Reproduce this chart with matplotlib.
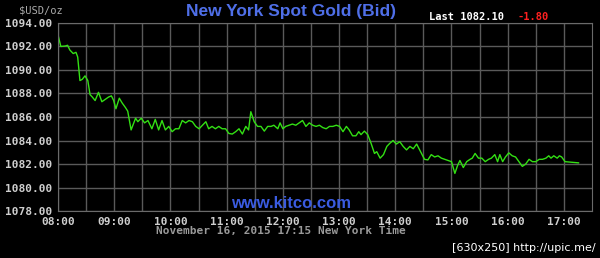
import matplotlib.pyplot as plt
import numpy as np

# spot gold bid, time in decimal hours (New York)
hours = [8.00, 8.05, 8.13, 8.17, 8.21, 8.27, 8.32, 8.35, 8.39, 8.43, 8.48, 8.53,
         8.57, 8.61, 8.66, 8.72, 8.78, 8.84, 8.90, 8.95, 8.99, 9.03, 9.09, 9.14,
         9.20, 9.24, 9.30, 9.38, 9.42, 9.48, 9.54, 9.60, 9.67, 9.73, 9.79, 9.85,
         9.91, 9.97, 10.03, 10.09, 10.15, 10.21, 10.27, 10.33, 10.39, 10.45, 10.51,
         10.57, 10.63, 10.68, 10.74, 10.80, 10.86, 10.92, 10.98, 11.04, 11.10, 11.16,
         11.22, 11.28, 11.34, 11.39, 11.43, 11.49, 11.55, 11.61, 11.67, 11.73, 11.79,
         11.84, 11.91, 11.95, 12.00, 12.05, 12.11, 12.17, 12.23, 12.29, 12.35, 12.41,
         12.47, 12.53, 12.59, 12.65, 12.71, 12.77, 12.83, 12.89, 12.95, 13.01, 13.07,
         13.13, 13.18, 13.24, 13.30, 13.35, 13.39, 13.45, 13.51, 13.57, 13.63, 13.67,
         13.73, 13.79, 13.85, 13.90, 13.96, 14.02, 14.08, 14.14, 14.20, 14.26, 14.32,
         14.38, 14.45, 14.52, 14.58, 14.64, 14.70, 14.76, 14.82, 14.88, 14.94, 15.00,
         15.06, 15.11, 15.15, 15.21, 15.27, 15.33, 15.37, 15.42, 15.48, 15.54, 15.60,
         15.66, 15.71, 15.77, 15.82, 15.86, 15.91, 15.96, 16.02, 16.08, 16.14, 16.20,
         16.26, 16.32, 16.38, 16.44, 16.50, 16.56, 16.62, 16.68, 16.73, 16.77, 16.82,
         16.88, 16.92, 16.96, 17.02, 17.26]
bid = [1092.98, 1092.0, 1092.04, 1092.1, 1091.7, 1091.4, 1091.5, 1091.1, 1089.1, 1089.2,
       1089.5, 1089.1, 1087.9, 1087.7, 1087.4, 1088.1, 1087.3, 1087.5, 1087.7, 1087.8,
       1087.4, 1086.7, 1087.6, 1087.2, 1086.8, 1086.5, 1084.9, 1085.9, 1085.6, 1085.9,
       1085.5, 1085.7, 1085.0, 1085.8, 1084.9, 1085.7, 1084.9, 1085.2, 1084.75, 1085.0,
       1085.0, 1085.7, 1085.5, 1085.7, 1085.6, 1085.2, 1085.0, 1085.3, 1085.6, 1085.0,
       1085.2, 1085.0, 1085.2, 1085.0, 1085.0, 1084.6, 1084.55, 1084.75, 1085.0, 1084.55,
       1085.2, 1084.9, 1086.45, 1085.6, 1085.2, 1085.2, 1084.8, 1085.2, 1085.2, 1085.3,
       1085.0, 1085.5, 1085.0, 1085.2, 1085.3, 1085.4, 1085.3, 1085.5, 1085.7, 1085.2,
       1085.5, 1085.3, 1085.2, 1085.3, 1085.1, 1085.0, 1085.2, 1085.2, 1085.3, 1085.2,
       1084.75, 1085.2, 1084.9, 1084.4, 1084.4, 1084.75, 1084.5, 1084.8, 1084.5, 1083.75,
       1082.9, 1083.05, 1082.5, 1082.8, 1083.5, 1083.75, 1084.0, 1083.7, 1083.9, 1083.5,
       1083.2, 1083.5, 1083.3, 1083.7, 1083.05, 1082.4, 1082.35, 1082.8, 1082.6, 1082.7,
       1082.5, 1082.4, 1082.3, 1082.2, 1081.2, 1081.9, 1082.3, 1081.7, 1082.2, 1082.4,
       1082.5, 1082.9, 1082.5, 1082.5, 1082.2, 1082.4, 1082.5, 1082.8, 1082.2, 1082.8,
       1082.2, 1082.6, 1082.95, 1082.7, 1082.6, 1082.2, 1081.8, 1082.0, 1082.4, 1082.2,
       1082.2, 1082.4, 1082.4, 1082.5, 1082.7, 1082.5, 1082.7, 1082.5, 1082.7, 1082.6,
       1082.2, 1082.1]

yticks = np.arange(1078, 1095, 2)
xticks = np.arange(8, 18, 1)
xlabels = ['%02d:00' % h for h in xticks]

fig = plt.figure(figsize=(6, 2.58), dpi=100, facecolor='black')
ax = fig.add_axes([0.0967, 0.182, 0.89, 0.729])
ax.set_facecolor('black')

ax.plot(hours, bid, color='#33e014', linewidth=1.0)

ax.set_xlim(8, 17.5)
ax.set_ylim(1078, 1094)
ax.set_yticks(yticks)
ax.set_yticklabels(['%.2f' % v for v in yticks])
ax.set_xticks(xticks)
ax.set_xticklabels(xlabels)
ax.set_xticks(np.arange(8.5, 17.5, 1), minor=True)
ax.grid(True, which='both', color='#5a5a5a', linewidth=1)
ax.set_axisbelow(True)
ax.tick_params(which='both', length=0)
ax.tick_params(axis='y', pad=4, colors='#cfcfcf', labelsize=8)
ax.tick_params(axis='x', pad=4, colors='#cfcfcf', labelsize=8)
for lab in ax.get_xticklabels() + ax.get_yticklabels():
    lab.set_family('DejaVu Sans Mono')
    lab.set_fontweight('bold')
for s in ax.spines.values():
    s.set_color('#6a6a6a')

fig.text(0.485, 0.955, 'New York Spot Gold (Bid)', color='#4f6fe8', fontsize=12.5,
         fontweight='bold', family='Liberation Sans', ha='center', va='center')
fig.text(0.715, 0.935, 'Last 1082.10', color='white', fontsize=7.5, fontweight='bold',
         family='DejaVu Sans Mono', ha='left', va='center')
fig.text(0.862, 0.935, '-1.80', color='#ff2020', fontsize=7.5, fontweight='bold',
         family='DejaVu Sans Mono', ha='left', va='center')
fig.text(0.032, 0.96, '$USD/oz', color='#aaaaaa', fontsize=7.5,
         family='DejaVu Sans Mono', ha='left', va='center')
fig.text(0.485, 0.213, 'www.kitco.com', color='#3a5be0', fontsize=12,
         fontweight='bold', family='Liberation Sans', ha='center', va='center')
fig.text(0.468, 0.105, 'November 16, 2015 17:15 New York Time', color='#9a9a9a',
         fontsize=8, fontweight='bold', family='DejaVu Sans Mono', ha='center', va='center')
fig.text(0.992, 0.04, '[630x250] http://upic.me/', color='white', fontsize=8,
         family='DejaVu Sans', ha='right', va='center')

plt.savefig('out.png', dpi=100, facecolor='black')
